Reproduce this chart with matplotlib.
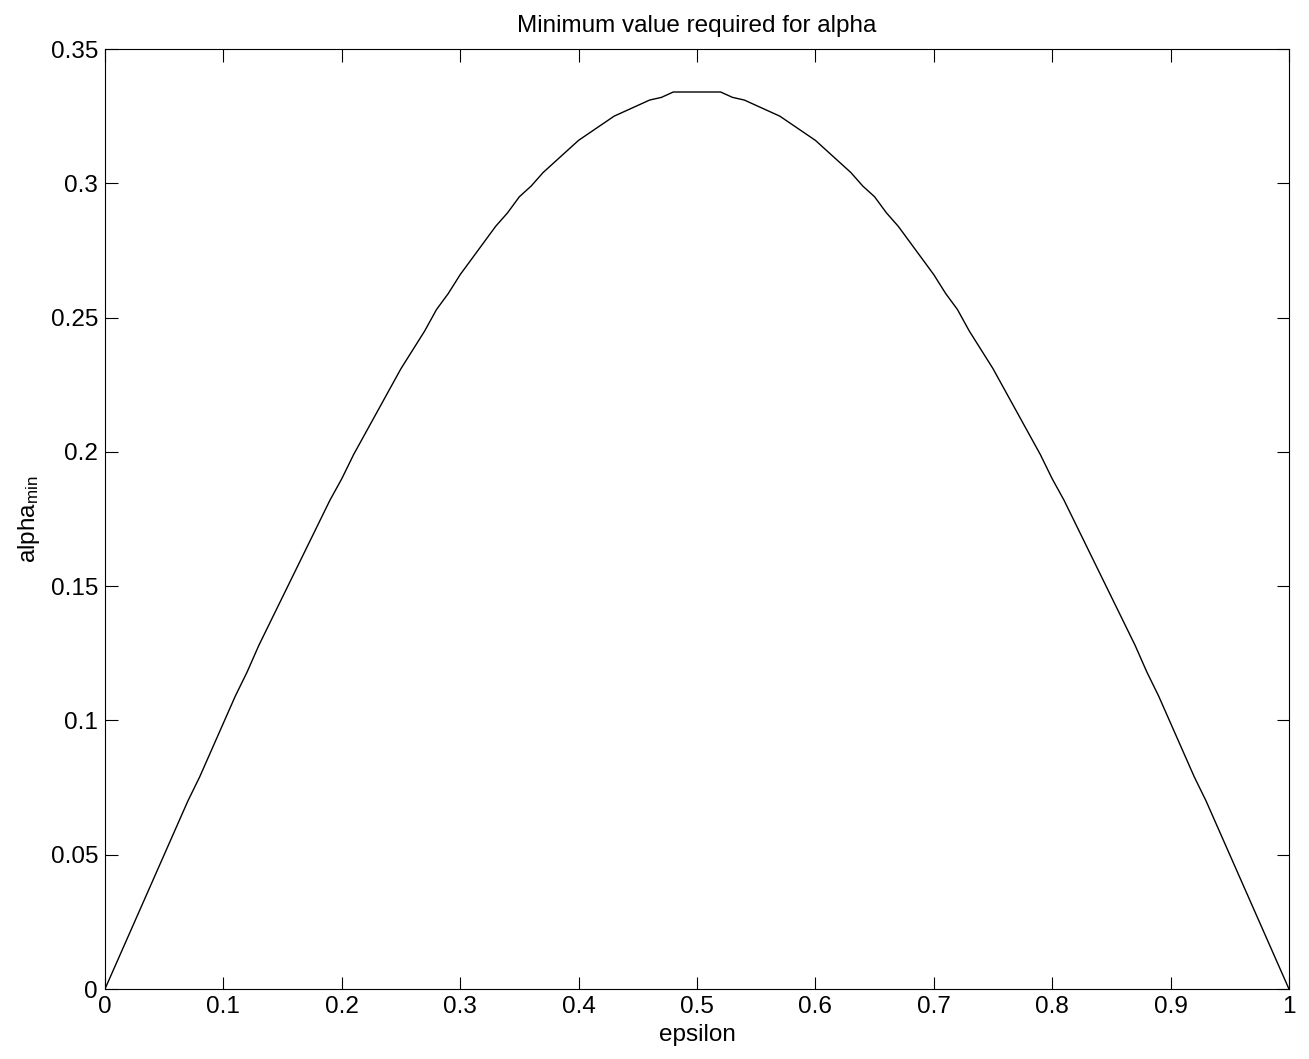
import matplotlib
matplotlib.use('Agg')
import matplotlib.pyplot as plt
from matplotlib.ticker import FormatStrFormatter

plt.rcParams['font.family'] = ['Liberation Sans', 'DejaVu Sans']
plt.rcParams['mathtext.fontset'] = 'custom'
plt.rcParams['mathtext.rm'] = 'Liberation Sans'
plt.rcParams['mathtext.it'] = 'Liberation Sans'

# epsilon grid and alpha_min values
epsilon = [0.00, 0.01, 0.02, 0.03, 0.04, 0.05, 0.06, 0.07, 0.08, 0.09,
           0.10, 0.11, 0.12, 0.13, 0.14, 0.15, 0.16, 0.17, 0.18, 0.19,
           0.20, 0.21, 0.22, 0.23, 0.24, 0.25, 0.26, 0.27, 0.28, 0.29,
           0.30, 0.31, 0.32, 0.33, 0.34, 0.35, 0.36, 0.37, 0.38, 0.39,
           0.40, 0.41, 0.42, 0.43, 0.44, 0.45, 0.46, 0.47, 0.48, 0.49,
           0.50, 0.51, 0.52, 0.53, 0.54, 0.55, 0.56, 0.57, 0.58, 0.59,
           0.60, 0.61, 0.62, 0.63, 0.64, 0.65, 0.66, 0.67, 0.68, 0.69,
           0.70, 0.71, 0.72, 0.73, 0.74, 0.75, 0.76, 0.77, 0.78, 0.79,
           0.80, 0.81, 0.82, 0.83, 0.84, 0.85, 0.86, 0.87, 0.88, 0.89,
           0.90, 0.91, 0.92, 0.93, 0.94, 0.95, 0.96, 0.97, 0.98, 0.99, 1.00]
alpha_min = [0.000, 0.010, 0.020, 0.030, 0.040, 0.050, 0.060, 0.070, 0.079, 0.089,
             0.099, 0.109, 0.118, 0.128, 0.137, 0.146, 0.155, 0.164, 0.173, 0.182,
             0.190, 0.199, 0.207, 0.215, 0.223, 0.231, 0.238, 0.245, 0.253, 0.259,
             0.266, 0.272, 0.278, 0.284, 0.289, 0.295, 0.299, 0.304, 0.308, 0.312,
             0.316, 0.319, 0.322, 0.325, 0.327, 0.329, 0.331, 0.332, 0.334, 0.334,
             0.334, 0.334, 0.334, 0.332, 0.331, 0.329, 0.327, 0.325, 0.322, 0.319,
             0.316, 0.312, 0.308, 0.304, 0.299, 0.295, 0.289, 0.284, 0.278, 0.272,
             0.266, 0.259, 0.253, 0.245, 0.238, 0.231, 0.223, 0.215, 0.207, 0.199,
             0.190, 0.182, 0.173, 0.164, 0.155, 0.146, 0.137, 0.128, 0.118, 0.109,
             0.099, 0.089, 0.079, 0.070, 0.060, 0.050, 0.040, 0.030, 0.020, 0.010, 0.000]

x_ticks = [0, 0.1, 0.2, 0.3, 0.4, 0.5, 0.6, 0.7, 0.8, 0.9, 1]
y_ticks = [0, 0.05, 0.1, 0.15, 0.2, 0.25, 0.3, 0.35]

fig = plt.figure(figsize=(13.09, 10.59), dpi=100)
ax = fig.add_axes([0.0802, 0.0661, 0.9045, 0.8876])
ax.plot(epsilon, alpha_min, color='black', linewidth=1.0)

ax.set_xlim(0, 1)
ax.set_ylim(0, 0.35)
ax.set_xticks(x_ticks)
ax.set_yticks(y_ticks)
ax.xaxis.set_major_formatter(FormatStrFormatter('%g'))
ax.yaxis.set_major_formatter(FormatStrFormatter('%g'))
ax.tick_params(direction='in', length=9, width=0.8, labelsize=17.5,
               top=True, right=True, pad=5)
for s in ax.spines.values():
    s.set_linewidth(0.8)

ax.set_title('Minimum value required for alpha', fontsize=17.5, pad=12)
ax.set_xlabel('epsilon', fontsize=17.5, labelpad=4)
ax.set_ylabel(r'alpha$_{\mathrm{min}}$', fontsize=17.5, labelpad=6)

fig.savefig('out.png', dpi=100)
